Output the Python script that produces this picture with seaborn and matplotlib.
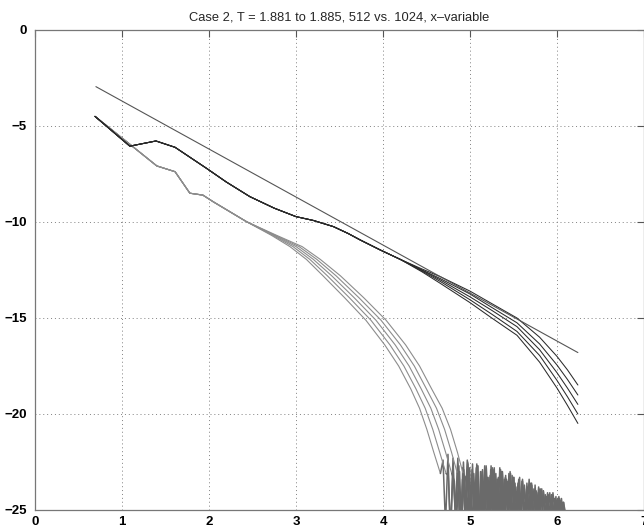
import numpy as np
import pandas as pd
import matplotlib
matplotlib.use("Agg")
import matplotlib.pyplot as plt
import seaborn as sns

# ---------------- data ----------------
title = "Case 2, T = 1.881 to 1.885, 512 vs. 1024, x\u2013variable"
x_ticks = [0, 1, 2, 3, 4, 5, 6, 7]
y_ticks = [0, -5, -10, -15, -20, -25]

# straight reference line
ref_x = [0.70, 6.24]
ref_y = [-2.95, -16.80]

# dark curves: common head, then five fanning tails
dark_head_x = [0.69, 1.09, 1.39, 1.61, 1.97, 2.20, 2.47, 2.75, 3.00, 3.20, 3.43, 3.60, 3.74, 3.97, 4.20]
dark_head_y = [-4.50, -6.05, -5.78, -6.11, -7.20, -7.92, -8.68, -9.28, -9.72, -9.92, -10.24, -10.60, -10.94, -11.46, -11.95]
dark_tail_x = [4.45, 4.66, 5.00, 5.25, 5.54, 5.80, 6.00, 6.12, 6.24]
dark_tail_1 = [-12.45, -12.85, -13.60, -14.25, -15.00, -16.00, -17.00, -17.70, -18.49]
dark_tail_2 = [-12.50, -12.95, -13.75, -14.45, -15.25, -16.35, -17.45, -18.20, -19.01]
dark_tail_3 = [-12.52, -13.02, -13.90, -14.60, -15.45, -16.65, -17.85, -18.65, -19.50]
dark_tail_4 = [-12.56, -13.10, -14.05, -14.80, -15.70, -16.95, -18.25, -19.10, -20.00]
dark_tail_5 = [-12.60, -13.20, -14.20, -15.00, -15.90, -17.30, -18.65, -19.55, -20.49]

# gray curves: common head, then five tails (x read at shared y levels)
gray_head_x = [0.69, 1.09, 1.40, 1.61, 1.78, 1.93, 2.05, 2.43]
gray_head_y = [-4.50, -5.95, -7.08, -7.38, -8.50, -8.60, -8.95, -9.98]
gray_tail_y = [-10.70, -11.28, -11.95, -12.80, -13.95, -15.12, -16.40, -17.50, -18.70, -19.70, -20.80, -22.00, -23.10]
gray_tail_1 = [2.720, 2.930, 3.120, 3.310, 3.560, 3.804, 4.020, 4.180, 4.320, 4.420, 4.504, 4.584, 4.660]
gray_tail_2 = [2.735, 2.965, 3.160, 3.360, 3.615, 3.862, 4.080, 4.240, 4.380, 4.485, 4.572, 4.652, 4.725]
gray_tail_3 = [2.750, 3.000, 3.200, 3.410, 3.670, 3.920, 4.140, 4.300, 4.440, 4.550, 4.640, 4.720, 4.790]
gray_tail_4 = [2.765, 3.035, 3.240, 3.460, 3.725, 3.978, 4.200, 4.360, 4.500, 4.615, 4.708, 4.788, 4.855]
gray_tail_5 = [2.780, 3.070, 3.280, 3.510, 3.780, 4.036, 4.260, 4.420, 4.560, 4.680, 4.776, 4.856, 4.920]

# noisy floor of the gray curves (start x, end x, values)
noise_span = [(4.69, 6.08), (4.75, 6.09), (4.82, 6.10), (4.88, 6.06), (4.95, 6.10)]
noise_1 = [-22.4, -25.8, -22.1, -26.5, -23.0, -25.2, -22.3, -27.0, -22.8, -25.6,
           -22.5, -26.2, -23.1, -25.4, -22.7, -26.8, -22.9, -25.1, -23.3, -26.0,
           -22.8, -25.7, -23.4, -26.4, -23.0, -25.3, -23.5, -26.1, -23.2, -25.9,
           -23.8, -25.4, -23.5, -26.6, -23.9, -25.2, -23.7, -26.0, -24.1, -25.5,
           -23.9, -26.3, -24.3, -25.1, -24.2, -25.8, -24.5, -25.3, -24.4, -26.0]
noise_2 = [-23.2, -26.1, -22.3, -25.4, -22.6, -26.9, -23.4, -25.0, -22.4, -26.3,
           -22.9, -25.5, -22.6, -27.1, -23.2, -25.3, -22.8, -26.4, -22.7, -25.2,
           -23.1, -26.7, -22.9, -25.6, -23.3, -25.1, -23.0, -26.2, -23.6, -25.5,
           -23.3, -26.8, -23.7, -25.3, -23.4, -25.9, -23.9, -25.2, -23.8, -26.4,
           -24.0, -25.4, -24.2, -26.0, -24.1, -25.2, -24.4, -25.7, -24.6, -25.3]
noise_3 = [-23.5, -25.6, -22.7, -26.3, -22.5, -25.1, -23.0, -26.6, -22.6, -25.4,
           -22.8, -26.0, -23.3, -25.2, -22.7, -26.9, -22.9, -25.5, -23.2, -26.1,
           -22.8, -25.3, -23.4, -26.5, -23.1, -25.0, -23.3, -25.8, -23.6, -26.3,
           -23.4, -25.1, -23.8, -25.9, -23.6, -26.6, -24.0, -25.3, -23.9, -25.8,
           -24.2, -25.2, -24.1, -26.2, -24.4, -25.4, -24.3, -25.9, -24.6, -25.2]
noise_4 = [-23.0, -26.4, -22.9, -25.3, -22.6, -25.9, -23.2, -25.2, -22.8, -26.7,
           -23.0, -25.4, -22.7, -26.1, -23.3, -25.0, -22.9, -25.8, -23.4, -26.5,
           -23.0, -25.2, -23.2, -26.0, -23.5, -25.6, -23.3, -26.8, -23.7, -25.3,
           -23.5, -25.9, -23.9, -25.1, -23.6, -26.2, -24.0, -25.5, -23.9, -26.0,
           -24.3, -25.3, -24.1, -25.9, -24.4, -25.2, -24.3, -26.1, -24.5, -25.4]
noise_5 = [-23.3, -25.2, -22.8, -26.6, -23.1, -25.5, -22.7, -26.0, -23.0, -25.3,
           -22.9, -26.5, -23.2, -25.1, -22.8, -25.9, -23.3, -26.3, -23.0, -25.4,
           -23.4, -25.8, -23.1, -26.2, -23.6, -25.1, -23.4, -25.7, -23.8, -26.4,
           -23.6, -25.2, -23.9, -26.0, -23.7, -25.5, -24.1, -26.3, -24.0, -25.2,
           -24.3, -25.9, -24.2, -25.4, -24.5, -26.0, -24.4, -25.3, -24.6, -25.8]

# ---------------- drawing ----------------
sns.set_style("white")
plt.rcParams["font.family"] = ["Liberation Sans", "DejaVu Sans"]

fig = plt.figure(figsize=(6.44, 5.29), dpi=100)
ax = fig.add_axes([35 / 644, 19 / 529, 609 / 644, 480 / 529])

gray_col = "#8c8c8c"
noise_col = "#6a6a6a"
dark_col = "#2a2a2a"

gray_tails = [gray_tail_1, gray_tail_2, gray_tail_3, gray_tail_4, gray_tail_5]
noises = [noise_1, noise_2, noise_3, noise_4, noise_5]
for tail, noise, (x0, x1) in zip(gray_tails, noises, noise_span):
    smooth = pd.DataFrame({"x": gray_head_x + tail, "y": gray_head_y + gray_tail_y})
    sns.lineplot(data=smooth, x="x", y="y", sort=False, estimator=None,
                 color=gray_col, lw=0.8, ax=ax)
    nx = np.linspace(x0, x1, len(noise))
    rough = pd.DataFrame({"x": [tail[-1]] + list(nx), "y": [gray_tail_y[-1]] + list(noise)})
    sns.lineplot(data=rough, x="x", y="y", sort=False, estimator=None,
                 color=noise_col, lw=1.1, ax=ax)

for tail in [dark_tail_1, dark_tail_2, dark_tail_3, dark_tail_4, dark_tail_5]:
    df = pd.DataFrame({"x": dark_head_x + dark_tail_x, "y": dark_head_y + tail})
    sns.lineplot(data=df, x="x", y="y", sort=False, estimator=None,
                 color=dark_col, lw=0.75, ax=ax)

sns.lineplot(x=ref_x, y=ref_y, sort=False, estimator=None,
             color="#555555", lw=0.8, ax=ax)

ax.set_xlim(0, 7)
ax.set_ylim(-25, 0)
ax.set_xticks(x_ticks)
ax.set_yticks(y_ticks)
ax.set_xlabel("")
ax.set_ylabel("")
ax.grid(True, linestyle=(0, (1, 3)), color="#808080", lw=0.7)
ax.tick_params(direction="in", length=5, top=True, right=True,
               labelsize=9.5, colors="#555555", labelcolor="black", pad=4)
for lab in ax.get_xticklabels() + ax.get_yticklabels():
    lab.set_fontweight("bold")
ax.tick_params(axis="y", pad=6)
for s in ax.spines.values():
    s.set_color("#777777")
    s.set_linewidth(0.9)
ax.set_title(title, fontsize=9.3, pad=7)

fig.savefig("out.png", dpi=100)
